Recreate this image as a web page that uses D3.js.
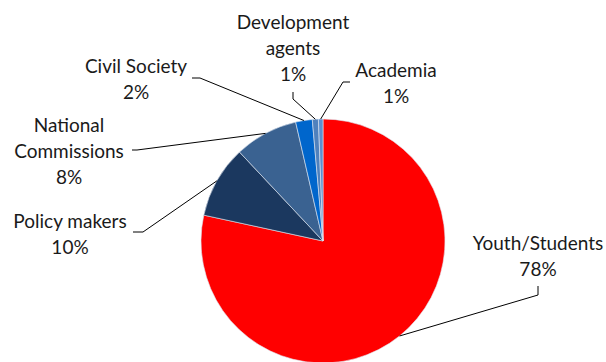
<!DOCTYPE html>
<html>
<head>
<meta charset="utf-8">
<script src="https://cdn.jsdelivr.net/npm/d3@7/dist/d3.min.js"></script>
<style>
  html, body { margin: 0; padding: 0; background: #ffffff; }
  svg { display: block; }
  .lbl { font-family: Lato, "Open Sans", sans-serif; font-size: 19px; fill: #1a1a1a; }
</style>
</head>
<body>
<svg id="chart" width="606" height="362"></svg>
<script>
// Stakeholder groups and their share (percent)
const categories = ["Youth/Students", "Policy makers", "National Commissions", "Civil Society", "Development agents", "Academia"];
const labelLines = [["Youth/Students"], ["Policy makers"], ["National", "Commissions"], ["Civil Society"], ["Development", "agents"], ["Academia"]];
const shares = [78.4, 9.6, 8.4, 2.2, 0.8, 0.6];
const colors = ["#ff0000", "#1b385f", "#3a6291", "#0066cc", "#4f81bd", "#5b8fd0"];

// Label placement: text centre, first baseline, and leader elbow points
const labelLayout = [
  { x: 538, y: 250, pts: [[538, 286], [538, 295]] },
  { x: 70,  y: 228, pts: [[133, 232], [143, 232]] },
  { x: 69,  y: 132, pts: [[132, 150], [137, 150]] },
  { x: 136, y: 73,  pts: [[192, 78], [200, 78]] },
  { x: 293, y: 29,  pts: [[293, 92], [293, 99]] },
  { x: 396, y: 77,  pts: [[350, 82], [343, 82]] }
];

const svg = d3.select("#chart");
const cx = 323, cy = 241, radius = 122;
const lineHeight = 26;

const total = d3.sum(shares);
const data = categories.map((c, i) => ({ name: c, value: shares[i], color: colors[i], lines: labelLines[i], layout: labelLayout[i] }));

const pie = d3.pie().value(d => d.value).sort(null);
const arc = d3.arc().innerRadius(0).outerRadius(radius);
const arcs = pie(data);

const g = svg.append("g").attr("transform", `translate(${cx},${cy})`);

g.selectAll("path.slice")
  .data(arcs)
  .join("path")
  .attr("class", "slice")
  .attr("d", arc)
  .attr("fill", d => d.data.color)
  .attr("stroke", "#dfe6f0")
  .attr("stroke-width", 0.6);

// Leader lines: elbow from the label, ending on the slice's outer edge at its mid angle
arcs.forEach(a => {
  const mid = (a.startAngle + a.endAngle) / 2;
  const ex = cx + radius * Math.sin(mid);
  const ey = cy - radius * Math.cos(mid);
  const pts = a.data.layout.pts.concat([[ex, ey]]);
  svg.append("path")
    .attr("d", d3.line()(pts))
    .attr("fill", "none")
    .attr("stroke", "#000")
    .attr("stroke-width", 1);
});

// Category labels with rounded percentages
data.forEach(d => {
  const pct = Math.round(d.value / total * 100) + "%";
  const lines = d.lines.concat([pct]);
  const t = svg.append("text")
    .attr("class", "lbl")
    .attr("text-anchor", "middle")
    .attr("x", d.layout.x)
    .attr("y", d.layout.y);
  lines.forEach((ln, i) => {
    t.append("tspan")
      .attr("x", d.layout.x)
      .attr("dy", i === 0 ? 0 : lineHeight)
      .text(ln);
  });
});
</script>
</body>
</html>
